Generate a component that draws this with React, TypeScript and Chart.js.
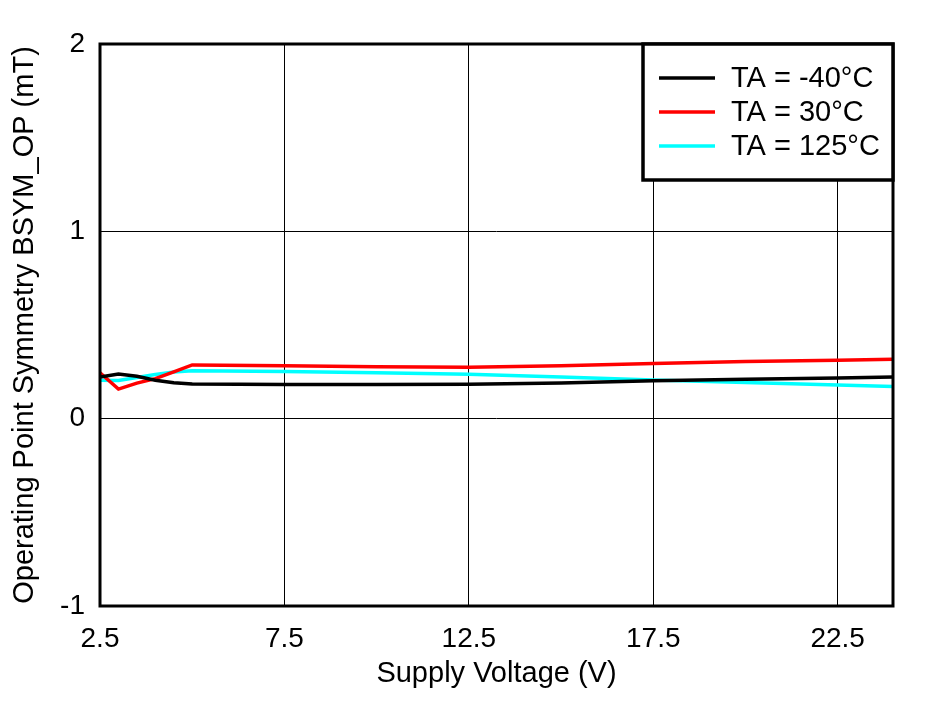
import React, { useEffect, useRef } from "react";
import { Chart, registerables } from "chart.js";

Chart.register(...registerables);

const voltages = [2.5, 3, 3.5, 4, 4.5, 5, 7.5, 10, 12.5, 15, 17.5, 20, 22.5, 24];
const seriesM40 = [0.222, 0.238, 0.226, 0.205, 0.192, 0.185, 0.183, 0.183, 0.184, 0.19, 0.202, 0.21, 0.217, 0.222];
const series30 = [0.245, 0.158, 0.19, 0.214, 0.25, 0.287, 0.283, 0.277, 0.274, 0.282, 0.295, 0.305, 0.312, 0.317];
const series125 = [0.205, 0.204, 0.22, 0.236, 0.249, 0.256, 0.252, 0.245, 0.237, 0.223, 0.207, 0.193, 0.18, 0.172];

const seriesLabels = ["TA = -40°C", "TA = 30°C", "TA = 125°C"];
const seriesColors = ["#000000", "#ff0000", "#00ffff"];
const xTicks = [2.5, 7.5, 12.5, 17.5, 22.5];
const yTicks = [-1, 0, 1, 2];
const xTitle = "Supply Voltage (V)";
const yTitle = "Operating Point Symmetry BSYM_OP (mT)";

const FONT = "Arial, 'Liberation Sans', sans-serif";

const framePlugin = {
  id: "frameAndLegend",
  afterDraw(chart: any) {
    const { ctx, chartArea } = chart;
    const { left, top, right, bottom } = chartArea;
    ctx.save();
    ctx.strokeStyle = "#000";
    ctx.lineWidth = 3;
    ctx.strokeRect(left, top, right - left, bottom - top);

    // legend box
    const boxW = 250;
    const boxH = 136;
    const bx = right - boxW;
    const by = top;
    ctx.fillStyle = "#fff";
    ctx.fillRect(bx, by, boxW, boxH);
    ctx.lineWidth = 3.5;
    ctx.strokeRect(bx, by, boxW, boxH);
    ctx.font = `29px ${FONT}`;
    ctx.textBaseline = "middle";
    ctx.textAlign = "left";
    const rowYs = [34, 68, 102];
    seriesLabels.forEach((lab, i) => {
      const y = by + rowYs[i];
      ctx.strokeStyle = seriesColors[i];
      ctx.lineWidth = 3.5;
      ctx.beginPath();
      ctx.moveTo(bx + 16, y);
      ctx.lineTo(bx + 72, y);
      ctx.stroke();
      ctx.fillStyle = "#000";
      ctx.fillText(lab, bx + 88, y + 1);
    });
    ctx.restore();
  },
};

export default function App() {
  const ref = useRef<HTMLCanvasElement>(null);
  useEffect(() => {
    if (!ref.current) return;
    const mk = (vals: number[]) => voltages.map((x, i) => ({ x, y: vals[i] }));
    const chart = new Chart(ref.current, {
      type: "line",
      data: {
        datasets: [seriesM40, series30, series125].map((vals, i) => ({
          label: seriesLabels[i],
          data: mk(vals),
          borderColor: seriesColors[i],
          backgroundColor: seriesColors[i],
          borderWidth: 3.5,
          pointRadius: 0,
          tension: 0,
        })),
      },
      options: {
        animation: false,
        responsive: false,
        layout: { padding: { top: 44, right: 53, left: 0, bottom: 0 } },
        plugins: { legend: { display: false }, tooltip: { enabled: false } },
        scales: {
          x: {
            type: "linear",
            min: 2.5,
            max: 24,
            afterBuildTicks: (s: any) => {
              s.ticks = xTicks.map((v) => ({ value: v }));
            },
            afterFit: (s: any) => {
              s.height = 95;
            },
            grid: { color: "#000", lineWidth: 1, drawTicks: false },
            border: { display: false },
            ticks: {
              color: "#000",
              font: { family: FONT, size: 28 },
              padding: 16,
              maxRotation: 0,
              callback: (v: any) => Number(v).toFixed(1),
            },
            title: {
              display: true,
              text: xTitle,
              color: "#000",
              font: { family: FONT, size: 29 },
              padding: { top: 0, bottom: 10 },
            },
          },
          y: {
            type: "linear",
            min: -1,
            max: 2,
            afterBuildTicks: (s: any) => {
              s.ticks = yTicks.map((v) => ({ value: v }));
            },
            afterFit: (s: any) => {
              s.width = 100;
            },
            grid: { color: "#000", lineWidth: 1, drawTicks: false },
            border: { display: false },
            ticks: {
              color: "#000",
              font: { family: FONT, size: 28 },
              padding: 15,
              callback: (v: any) => String(v),
            },
            title: {
              display: true,
              text: yTitle,
              color: "#000",
              font: { family: FONT, size: 29 },
              padding: { top: 8, bottom: 0 },
            },
          },
        },
      },
      plugins: [framePlugin],
    });
    return () => chart.destroy();
  }, []);
  return (
    <div style={{ position: "fixed", left: 0, top: 0, width: 946, height: 701, background: "#fff" }}>
      <canvas ref={ref} width={946} height={701} />
    </div>
  );
}
